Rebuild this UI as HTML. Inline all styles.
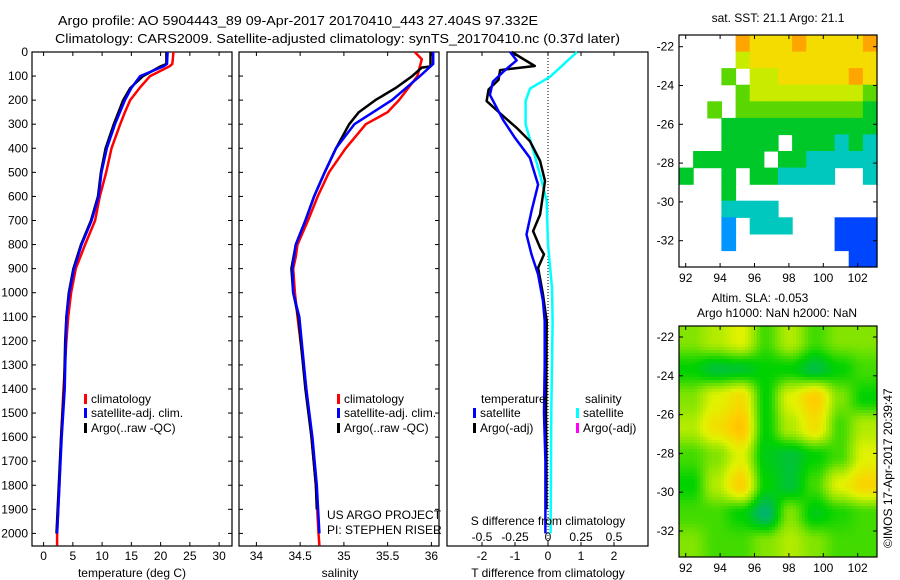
<!DOCTYPE html>
<html><head><meta charset="utf-8">
<style>
html,body{margin:0;padding:0;background:#fff;}
svg{display:block;font-family:"Liberation Sans",sans-serif;}
text{font-size:12px;fill:#000;}
</style></head>
<body>
<svg id="chart" width="900" height="580" viewBox="0 0 900 580" xmlns="http://www.w3.org/2000/svg">
<text x="58" y="25" textLength="480" lengthAdjust="spacingAndGlyphs" style="font-size:13px">Argo profile: AO 5904443_89 09-Apr-2017 20170410_443 27.404S 97.332E</text>
<text x="55" y="43" textLength="565" lengthAdjust="spacingAndGlyphs" style="font-size:13px">Climatology: CARS2009. Satellite-adjusted climatology: synTS_20170410.nc (0.37d later)</text>
<g id="p1"></g>
<g id="p2"></g>
<g id="p3"></g>
<g id="m1"></g>
<g id="m2"></g>
<text x="778" y="22" text-anchor="middle">sat. SST: 21.1 Argo: 21.1</text>
<text x="760" y="302" text-anchor="middle">Altim. SLA: -0.053</text>
<text x="777" y="317" text-anchor="middle">Argo h1000: NaN h2000: NaN</text>
<text transform="translate(892,548) rotate(-90)">©IMOS 17-Apr-2017 20:39:47</text>
</svg>
<script>
// ---------- profile data ----------
const tClimDepth = [0,50,60,100,150,200,250,300,400,500,600,700,800,900,1000,1100,1200,1400,1600,1800,2000,2050];
const tClimVal   = [22.2,22.0,21.5,18.2,16.4,14.8,13.9,13.1,11.6,10.7,9.6,8.8,7.1,5.5,4.7,4.2,3.9,3.4,3.0,2.7,2.3,2.3];
const tSatDepth  = [0,50,60,100,150,200,300,400,500,600,700,800,900,1000,1100,1200,1400,1600,1800,2000];
const tSatVal    = [21.2,21.1,20.5,16.5,15.0,13.9,12.2,10.8,9.9,9.4,8.2,6.5,5.2,4.4,3.9,3.8,3.6,3.1,2.7,2.3];
const tArgoDepth = [0,50,60,100,150,200,300,400,500,600,700,800,900,1000,1100,1200,1400,1600,1800,2000];
const tArgoVal   = [21.0,21.0,20.0,17.0,14.8,13.6,12.0,10.6,9.8,9.3,8.1,6.4,5.1,4.3,3.9,3.7,3.5,3.0,2.6,2.2];

const sClimDepth = [0,30,100,200,250,300,400,500,600,700,800,850,900,1000,1100,1400,1600,1800,2000,2050];
const sClimVal   = [35.81,35.89,35.84,35.63,35.5,35.25,35.02,34.83,34.70,34.59,34.47,34.45,34.42,34.44,34.47,34.57,34.63,34.68,34.71,34.72];
const sSatDepth  = [0,50,100,200,300,400,500,600,700,800,900,1000,1100,1400,1600,1800,2000];
const sSatVal    = [36.02,36.02,35.87,35.55,35.12,34.91,34.78,34.66,34.56,34.45,34.41,34.42,34.49,34.57,34.64,34.69,34.72];
const sArgoDepth = [0,60,65,100,150,200,250,300,400,500,600,700,800,900,1000,1100,1400,1600,1800,1900];
const sArgoVal   = [35.99,35.99,35.89,35.78,35.59,35.36,35.17,35.06,34.91,34.78,34.66,34.56,34.45,34.40,34.42,34.48,34.56,34.63,34.68,34.69];

const dTArgoDepth = [0,58,75,116,156,204,266,315,370,453,536,675,744,813,841,897,1008,1119,1300,1500,1700,1900];
const dTArgoVal   = [-1.1,-0.4,-1.45,-1.5,-1.8,-1.86,-1.36,-0.95,-0.55,-0.24,-0.09,-0.24,-0.45,-0.24,-0.12,-0.3,-0.15,-0.04,-0.05,-0.06,-0.05,-0.05];
const dTSatDepth  = [0,35,75,123,178,282,357,440,551,661,758,841,924,1035,1119,1300,1500,1700,2000];
const dTSatVal    = [-1.15,-0.95,-1.3,-1.67,-1.76,-1.36,-1.0,-0.55,-0.3,-0.5,-0.65,-0.5,-0.3,-0.15,-0.1,-0.1,-0.12,-0.08,-0.08];
const dSSatDepth  = [0,103,152,204,301,412,510,620,800,980,1119,1500,2000];
const dSSatVal    = [0.22,0.015,-0.136,-0.17,-0.17,-0.11,-0.06,-0.01,0.0,0.03,0.035,0.025,0.02];

const depthTicks = [0,100,200,300,400,500,600,700,800,900,1000,1100,1200,1300,1400,1500,1600,1700,1800,1900,2000];
const tTicks = [0,5,10,15,20,25,30];
const sTicks = [34,34.5,35,35.5,36];
const dTTicks = [-2,-1,0,1,2];
const dSTickLabels = ["-0.5","-0.25","0","0.25","0.5"];
const dSTicks = [-0.5,-0.25,0,0.25,0.5];

// ---------- map data ----------
const sstRows = [
"....8777877778",
"....6777777777",
"...5.667777787",
"....5666666665",
"..5.5555555554",
"...44444444444",
"...4444.444343",
".44444.4433333",
"4..4.443333..3",
"...4..........",
"...3333.......",
"...2.333...111",
"...2.......111",
"............11"
];
const slaRows = [
[5,5.5,6,4.5,5.5,4.5,5,5],
[4,3.5,3.6,4,4,3.4,4,4.5],
[5,6,6.6,4,6,7,5,4],
[5.5,6.5,7.2,4,5.5,6.5,4.5,5.5],
[4.5,5,6,3.8,3.5,4,4.5,6],
[4,5.5,6.9,4,3.5,4.5,6,6.8],
[4.5,4.5,4,3,5,3.8,4.2,4.5],
[5,4.5,4.5,5,5.5,5,4.5,4.5]
];
const lonTicks = [92,94,96,98,100,102];
const latTicks = [-22,-24,-26,-28,-30,-32];

const NS = "http://www.w3.org/2000/svg";
function el(tag, attrs, parent, txt){
  const e = document.createElementNS(NS, tag);
  for (const k in attrs) e.setAttribute(k, attrs[k]);
  if (txt !== undefined) e.textContent = txt;
  parent.appendChild(e); return e;
}
const Y0 = 52, PY = 0.2407, YB = 546;
const yD = d => Y0 + d*PY;

function frame(g, x0, x1, name){
  const r = el('rect',{x:x0,y:Y0,width:x1-x0,height:YB-Y0,fill:'none',stroke:'#000','stroke-width':1.2},g);
  
  
}
function line(g, xs, ds, fx, color, w, name){
  const pts = xs.map((v,i)=> fx(v).toFixed(1)+','+yD(ds[i]).toFixed(1)).join(' ');
  const p = el('polyline',{points:pts,fill:'none',stroke:color,'stroke-width':w,'stroke-linejoin':'round'},g);
  
  
}
function xTicks(g, ticks, fx, labels, ylab, top){
  ticks.forEach((t,i)=>{
    const x = fx(t);
    el('line',{x1:x,x2:x,y1:YB,y2:YB-4,stroke:'#000'},g);
    if (top) el('line',{x1:x,x2:x,y1:Y0,y2:Y0+4,stroke:'#000'},g);
    if (labels){
      const tx = el('text',{x:x,y:ylab,'text-anchor':'middle'},g,labels[i]);
      
      
    }
  });
}
function depthTickMarks(g, x0, x1){
  depthTicks.forEach(d=>{
    const y = yD(d);
    el('line',{x1:x0,x2:x0+4,y1:y,y2:y,stroke:'#000'},g);
    el('line',{x1:x1,x2:x1-4,y1:y,y2:y,stroke:'#000'},g);
  });
}
function legendEntry(g, x, y, color, label){
  const r = el('rect',{x:x,y:y-9,width:3,height:10,fill:color},g);
  
  
  const t = el('text',{x:x+7,y:y},g,label);
  
  
}

// Panel 1
const p1 = document.getElementById('p1');
const fT = t => 43.6 + t*5.85;
frame(p1, 32, 232, 'temperature');
depthTickMarks(p1, 32, 232);
depthTicks.forEach(d=>{
  const t = el('text',{x:28,y:yD(d)+4,'text-anchor':'end'},p1,String(d));
  
  
});
xTicks(p1, tTicks, fT, tTicks.map(String), 560, true);
line(p1, tClimVal, tClimDepth, fT, '#ff0000', 2.5, 'temp-climatology-line');
line(p1, tArgoVal, tArgoDepth, fT, '#000000', 2.5, 'temp-argo-line');
line(p1, tSatVal, tSatDepth, fT, '#0000ff', 2.5, 'temp-satellite-line');
legendEntry(p1, 84, 403, '#ff0000', 'climatology');
legendEntry(p1, 84, 417, '#0000ff', 'satellite-adj. clim.');
legendEntry(p1, 84, 432, '#000000', 'Argo(..raw -QC)');
{const t=el('text',{x:132,y:577,'text-anchor':'middle'},p1,'temperature (deg C)');
}

// Panel 2
const p2 = document.getElementById('p2');
const fS = s => 256.4 + (s-34)*87.5;
frame(p2, 239, 439, 'salinity');
depthTickMarks(p2, 239, 439);
xTicks(p2, sTicks, fS, ["34","34.5","35","35.5","36"], 560, true);
line(p2, sClimVal, sClimDepth, fS, '#ff0000', 2.5, 'sal-climatology-line');
line(p2, sArgoVal, sArgoDepth, fS, '#000000', 2.5, 'sal-argo-line');
line(p2, sSatVal, sSatDepth, fS, '#0000ff', 2.5, 'sal-satellite-line');
legendEntry(p2, 337, 403, '#ff0000', 'climatology');
legendEntry(p2, 337, 417, '#0000ff', 'satellite-adj. clim.');
legendEntry(p2, 337, 432, '#000000', 'Argo(..raw -QC)');
{const t=el('text',{x:327,y:519},p2,'US ARGO PROJECT');}
{const t=el('text',{x:327,y:534},p2,'PI: STEPHEN RISER');}
{const t=el('text',{x:340,y:577,'text-anchor':'middle'},p2,'salinity');}

// Panel 3
const p3 = document.getElementById('p3');
const fDT = v => 548 + v*33;
const fDS = v => 548 + v*132;
frame(p3, 447, 648, 'difference');
el('line',{x1:548,x2:548,y1:Y0,y2:YB,stroke:'#000','stroke-dasharray':'1,2'},p3);
xTicks(p3, dTTicks, fDT, dTTicks.map(String), 560, true);
dSTicks.forEach((v,i)=>{
  const t = el('text',{x:fDS(v),y:541,'text-anchor':'middle'},p3,dSTickLabels[i]);
  
  
});
line(p3, dSSatVal, dSSatDepth, fDS, '#00ffff', 2.5, 'sdiff-satellite-line');
line(p3, dTArgoVal, dTArgoDepth, fDT, '#000000', 2.5, 'tdiff-argo-line');
line(p3, dTSatVal, dTSatDepth, fDT, '#0000ff', 2.5, 'tdiff-satellite-line');
{const t=el('text',{x:481,y:403},p3,'temperature');}
{const t=el('text',{x:585,y:403},p3,'salinity');}
legendEntry(p3, 473, 417, '#0000ff', 'satellite');
legendEntry(p3, 473, 432, '#000000', 'Argo(-adj)');
legendEntry(p3, 576, 417, '#00ffff', 'satellite');
legendEntry(p3, 576, 432, '#ff00ff', 'Argo(-adj)');
{const t=el('text',{x:548,y:525,'text-anchor':'middle'},p3,'S difference from climatology');}
{const t=el('text',{x:548,y:577,'text-anchor':'middle'},p3,'T difference from climatology');}

// ---------- maps ----------
const cmapStops = [[0,[0,0,140]],[1,[0,70,255]],[2,[0,150,255]],[3,[0,200,190]],[4,[0,200,40]],[5,[90,215,0]],[6,[200,235,0]],[7,[245,220,0]],[8,[255,165,0]],[9,[255,90,0]]];
function cmap(v){
  v = Math.max(0, Math.min(9, v));
  const i = Math.min(8, Math.floor(v)); const f = v - i;
  const a = cmapStops[i][1], b = cmapStops[i+1][1];
  return 'rgb('+a.map((c,k)=>Math.round(c+(b[k]-c)*f)).join(',')+')';
}
const slaStops = [[3,[0,180,110]],[4,[0,210,0]],[5,[130,228,0]],[6,[225,242,0]],[7,[255,205,0]],[8,[255,160,0]]];
function slaCmap(v){
  v = Math.max(3, Math.min(8, v));
  const i = Math.min(4, Math.floor(v-3)); const f = v-3-i;
  const a = slaStops[i][1], b = slaStops[i+1][1];
  return 'rgb('+a.map((c,k)=>Math.round(c+(b[k]-c)*f)).join(',')+')';
}
const MX0 = 679, MX1 = 877;
const fLon = lon => 685.7 + (lon-92)*17.2;
function mapAxes(g, y0, y1, latY, name){
  el('rect',{x:MX0,y:y0,width:MX1-MX0,height:y1-y0,fill:'none',stroke:'#000','stroke-width':1.2},g);
  lonTicks.forEach(l=>{
    const x = fLon(l);
    el('line',{x1:x,x2:x,y1:y1,y2:y1-4,stroke:'#000'},g);
    el('line',{x1:x,x2:x,y1:y0,y2:y0+4,stroke:'#000'},g);
    const t = el('text',{x:x,y:y1+15,'text-anchor':'middle'},g,String(l));
    
    
  });
  latTicks.forEach(l=>{
    const y = latY(l);
    el('line',{x1:MX0,x2:MX0+4,y1:y,y2:y,stroke:'#000'},g);
    el('line',{x1:MX1,x2:MX1-4,y1:y,y2:y,stroke:'#000'},g);
    const t = el('text',{x:MX0-5,y:y+4,'text-anchor':'end'},g,String(l));
    
    
  });
}
// Map 1
const m1 = document.getElementById('m1');
const M1Y0 = 35, M1Y1 = 267;
{
  const nc = 14, nr = 14, cw = (MX1-MX0)/nc, ch = (M1Y1-M1Y0)/nr;
  sstRows.forEach((row, r)=>{
    for (let c=0; c<nc; c++){
      const chv = row[c] || '.';
      if (chv === '.') continue;
      const v = parseFloat(chv);
      const rect = el('rect',{x:(MX0+c*cw).toFixed(1),y:(M1Y0+r*ch).toFixed(1),width:(cw+0.6).toFixed(1),height:(ch+0.6).toFixed(1),fill:cmap(v)},m1);
      
      
    }
  });
}
mapAxes(m1, M1Y0, M1Y1, l => 46.7 + (-22-l)*19.4, 'sst-map');
// Map 2
const m2 = document.getElementById('m2');
const M2Y0 = 326, M2Y1 = 557;
{
  const step = 3, gw = MX1-MX0, gh = M2Y1-M2Y0;
  for (let py=0; py<gh; py+=step){
    for (let px=0; px<gw; px+=step){
      const gx = Math.min(6.999, Math.max(0, (px+step/2)/gw*8 - 0.5));
      const gy = Math.min(6.999, Math.max(0, (py+step/2)/gh*8 - 0.5));
      const i = Math.floor(gx), j = Math.floor(gy);
      let fx = gx-i, fy = gy-j;
      fx = fx*fx*(3-2*fx); fy = fy*fy*(3-2*fy);
      const v = slaRows[j][i]*(1-fx)*(1-fy) + slaRows[j][i+1]*fx*(1-fy) + slaRows[j+1][i]*(1-fx)*fy + slaRows[j+1][i+1]*fx*fy;
      const rect = el('rect',{x:MX0+px,y:M2Y0+py,width:step+0.5,height:step+0.5,fill:slaCmap(v)},m2);
      
      
    }
  }
}
mapAxes(m2, M2Y0, M2Y1, l => 337 + (-22-l)*19.4, 'sla-map');
</script>
</body></html>
